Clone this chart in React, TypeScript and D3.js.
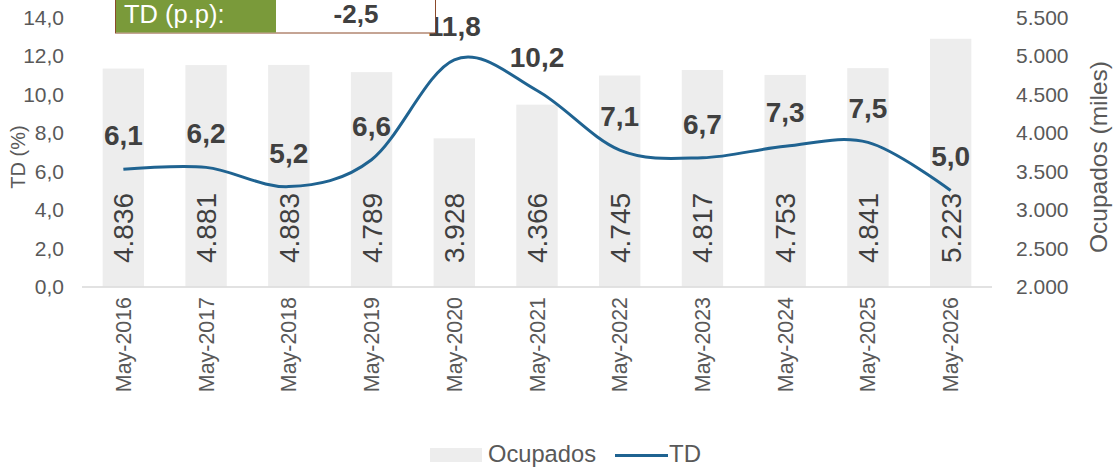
import React from "react";
import * as d3 from "d3";

const categories = ["May-2016","May-2017","May-2018","May-2019","May-2020","May-2021","May-2022","May-2023","May-2024","May-2025","May-2026"];
const ocupados = [4836, 4881, 4883, 4789, 3928, 4366, 4745, 4817, 4753, 4841, 5223];
const td = [6.1, 6.2, 5.2, 6.6, 11.8, 10.2, 7.1, 6.7, 7.3, 7.5, 5.0];
const leftTicks = [0, 2, 4, 6, 8, 10, 12, 14];
const rightTicks = [2000, 2500, 3000, 3500, 4000, 4500, 5000, 5500];
const boxLabel = "TD (p.p):";
const boxValue = "-2,5";

const W = 1114, H = 468;
const FONT = "'Liberation Sans', Arial, sans-serif";

export default function App() {
  const x = d3.scaleBand<string>().domain(categories).range([82, 992]).paddingInner(0.5).paddingOuter(0.25);
  const yL = d3.scaleLinear().domain([0, 14]).range([286.5, 17.5]);
  const yR = d3.scaleLinear().domain([2000, 5500]).range([286.5, 17.5]);
  const cx = (c: string) => (x(c) ?? 0) + x.bandwidth() / 2;
  const fmt1 = (v: number) => v.toFixed(1).replace(".", ",");
  const fmtK = (v: number) => d3.format(",")(v).replace(/,/g, ".");
  const line = d3.line<number>()
    .x((_, i) => cx(categories[i]))
    .y((d) => yL(d))
    .curve(d3.curveCardinal.tension(0));

  return (
    <svg width={W} height={H} style={{ position: "absolute", left: 0, top: 0, fontFamily: FONT }}>
      <rect x={0} y={0} width={W} height={H} fill="#fff" />
      {/* bars */}
      {ocupados.map((v, i) => (
        <rect key={i} x={x(categories[i])} y={yR(v)} width={x.bandwidth()} height={yR(2000) - yR(v)} fill="#EDEDED" />
      ))}
      {/* axis line */}
      <line x1={82} x2={992} y1={287} y2={287} stroke="#D9D9D9" strokeWidth={1.5} />
      {/* bar labels */}
      {ocupados.map((v, i) => (
        <text key={i} transform={`translate(${cx(categories[i]) + 10},263) rotate(-90)`} fontSize={28} fill="#404040" textAnchor="start">
          {fmtK(v)}
        </text>
      ))}
      {/* line */}
      <path d={line(td) ?? ""} fill="none" stroke="#1F6391" strokeWidth={3} />
      {td.map((v, i) => (
        <text key={i} x={cx(categories[i])} y={yL(v) - 24} fontSize={28} fontWeight="bold" fill="#404040" textAnchor="middle">
          {fmt1(v)}
        </text>
      ))}
      {/* left ticks */}
      {leftTicks.map((t) => (
        <text key={t} x={64} y={yL(t) + 7.5} fontSize={21} fill="#595959" textAnchor="end">{fmt1(t)}</text>
      ))}
      {rightTicks.map((t) => (
        <text key={t} x={1016} y={yR(t) + 7.5} fontSize={21} fill="#595959" textAnchor="start">{fmtK(t)}</text>
      ))}
      <text transform="translate(25,157) rotate(-90)" fontSize={20} fill="#595959" textAnchor="middle">TD (%)</text>
      <text transform="translate(1107,157) rotate(-90)" fontSize={24.5} fill="#595959" textAnchor="middle">Ocupados (miles)</text>
      {/* x labels */}
      {categories.map((c) => (
        <text key={c} transform={`translate(${cx(c) + 7.5},297) rotate(-90)`} fontSize={21.4} fill="#595959" textAnchor="end">{c}</text>
      ))}
      {/* top box */}
      <rect x={115.5} y={-2} width={320} height={35} fill="#fff" stroke="#8B4A2B" strokeWidth={1} />
      <rect x={116} y={-2} width={160} height={34.5} fill="#7A9A3A" />
      <text x={124} y={23} fontSize={25.5} fill="#fff">{boxLabel}</text>
      <text x={356} y={23} fontSize={26} fontWeight="bold" fill="#404040" textAnchor="middle">{boxValue}</text>
      {/* legend */}
      <rect x={430} y={448} width={52} height={14} fill="#EDEDED" />
      <text x={488} y={462} fontSize={23.7} fill="#595959">Ocupados</text>
      <line x1={615} x2={668} y1={455.5} y2={455.5} stroke="#1F6391" strokeWidth={3} />
      <text x={669} y={462} fontSize={24} fill="#595959">TD</text>
    </svg>
  );
}
